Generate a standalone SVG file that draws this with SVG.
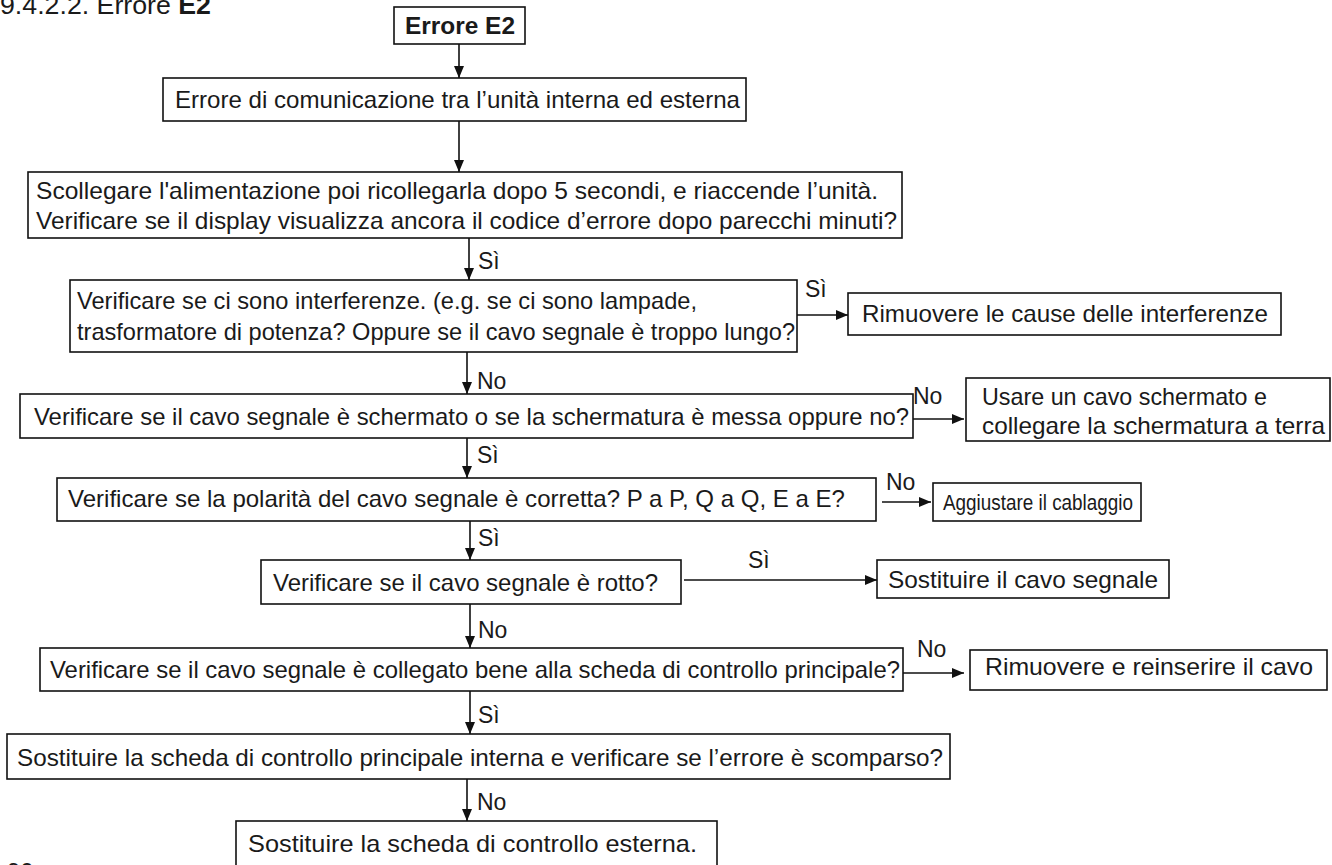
<svg xmlns="http://www.w3.org/2000/svg" width="1332" height="865" viewBox="0 0 1332 865">
  <defs>
    <marker id="arrow" viewBox="0 0 12 10" refX="12" refY="5" markerWidth="12" markerHeight="10" markerUnits="userSpaceOnUse" orient="auto">
      <path d="M0,0 L12,5 L0,10 z" fill="#111"/>
    </marker>
    <style>
      .box { fill: #fff; stroke: #111; stroke-width: 1.6; }
      .t { font-family: "Liberation Sans", Arial, sans-serif; font-size: 24px; fill: #1a1a1a; }
      .s { font-size: 22px; }
      .h { font-family: "Liberation Sans", Arial, sans-serif; font-size: 26px; fill: #1a1a1a; }
      .b { font-weight: bold; }
      .lbl { font-family: "Liberation Sans", Arial, sans-serif; font-size: 23px; fill: #1a1a1a; }
      .c { stroke: #111; stroke-width: 1.6; fill: none; marker-end: url(#arrow); }
    </style>
  </defs>
  <rect width="1332" height="865" fill="#fff"/>

  <!-- section heading -->
  <text class="h" x="0" y="14" textLength="211" lengthAdjust="spacingAndGlyphs">9.4.2.2. Errore <tspan class="b">E2</tspan></text>

  <!-- connectors -->
  <g id="connectors">
    <line class="c" x1="459" y1="44" x2="459" y2="78"/>
    <line class="c" x1="459" y1="121" x2="459" y2="172"/>
    <line class="c" x1="469" y1="238" x2="469" y2="280"/>
    <line class="c" x1="797" y1="315" x2="848" y2="315"/>
    <line class="c" x1="467" y1="352" x2="467" y2="394"/>
    <line class="c" x1="913" y1="419" x2="964" y2="419"/>
    <line class="c" x1="467" y1="438" x2="467" y2="478"/>
    <line class="c" x1="882" y1="502" x2="931" y2="502"/>
    <line class="c" x1="470" y1="521" x2="470" y2="560"/>
    <line class="c" x1="684" y1="580" x2="877" y2="580"/>
    <line class="c" x1="470" y1="604" x2="470" y2="648"/>
    <line class="c" x1="903" y1="673" x2="964" y2="673"/>
    <line class="c" x1="470" y1="691" x2="470" y2="734"/>
    <line class="c" x1="467" y1="779" x2="467" y2="821"/>

    <text class="lbl" x="478" y="269">Sì</text>
    <text class="lbl" x="805" y="297">Sì</text>
    <text class="lbl" x="477" y="389">No</text>
    <text class="lbl" x="913" y="404">No</text>
    <text class="lbl" x="477" y="463">Sì</text>
    <text class="lbl" x="886" y="490">No</text>
    <text class="lbl" x="478" y="546">Sì</text>
    <text class="lbl" x="748" y="568">Sì</text>
    <text class="lbl" x="478" y="638">No</text>
    <text class="lbl" x="917" y="657">No</text>
    <text class="lbl" x="478" y="723">Sì</text>
    <text class="lbl" x="477" y="810">No</text>
  </g>

  <g id="n-start">
    <rect class="box" x="394" y="7" width="131" height="37"/>
    <text class="t b" x="405" y="34" textLength="110" lengthAdjust="spacingAndGlyphs">Errore E2</text>
  </g>

  <g id="n-comm">
    <rect class="box" x="163" y="78" width="583" height="43"/>
    <text class="t" x="175" y="108" textLength="565" lengthAdjust="spacingAndGlyphs">Errore di comunicazione tra l’unità interna ed esterna</text>
  </g>

  <g id="n-reset">
    <rect class="box" x="28" y="172" width="874" height="66"/>
    <text class="t" x="36" y="199" textLength="842" lengthAdjust="spacingAndGlyphs">Scollegare l'alimentazione poi ricollegarla dopo 5 secondi, e riaccende l’unità.</text>
    <text class="t" x="36" y="229" textLength="861" lengthAdjust="spacingAndGlyphs">Verificare se il display visualizza ancora il codice d’errore dopo parecchi minuti?</text>
  </g>

  <g id="n-interf">
    <rect class="box" x="70" y="280" width="727" height="72"/>
    <text class="t" x="77" y="309" textLength="620" lengthAdjust="spacingAndGlyphs">Verificare se ci sono interferenze. (e.g. se ci sono lampade,</text>
    <text class="t" x="77" y="340" textLength="718" lengthAdjust="spacingAndGlyphs">trasformatore di potenza? Oppure se il cavo segnale è troppo lungo?</text>
  </g>

  <g id="n-remove-interf">
    <rect class="box" x="848" y="293" width="433" height="42"/>
    <text class="t" x="862" y="322" textLength="406" lengthAdjust="spacingAndGlyphs">Rimuovere le cause delle interferenze</text>
  </g>

  <g id="n-shield">
    <rect class="box" x="20" y="394" width="893" height="44"/>
    <text class="t" x="34" y="425" textLength="875" lengthAdjust="spacingAndGlyphs">Verificare se il cavo segnale è schermato o se la schermatura è messa oppure no?</text>
  </g>

  <g id="n-use-shield">
    <rect class="box" x="966" y="378" width="364" height="63"/>
    <text class="t" x="982" y="405" textLength="285" lengthAdjust="spacingAndGlyphs">Usare un cavo schermato e</text>
    <text class="t" x="982" y="434" textLength="343" lengthAdjust="spacingAndGlyphs">collegare la schermatura a terra</text>
  </g>

  <g id="n-polarity">
    <rect class="box" x="57" y="478" width="819" height="43"/>
    <text class="t" x="68" y="507" textLength="777" lengthAdjust="spacingAndGlyphs">Verificare se la polarità del cavo segnale è corretta? P a P, Q a Q, E a E?</text>
  </g>

  <g id="n-wiring">
    <rect class="box" x="933" y="483" width="208" height="38"/>
    <text class="t s" x="943" y="510" textLength="190" lengthAdjust="spacingAndGlyphs">Aggiustare il cablaggio</text>
  </g>

  <g id="n-broken">
    <rect class="box" x="261" y="560" width="420" height="44"/>
    <text class="t" x="273" y="591" textLength="385" lengthAdjust="spacingAndGlyphs">Verificare se il cavo segnale è rotto?</text>
  </g>

  <g id="n-replace-cable">
    <rect class="box" x="877" y="560" width="292" height="38"/>
    <text class="t" x="888" y="588" textLength="270" lengthAdjust="spacingAndGlyphs">Sostituire il cavo segnale</text>
  </g>

  <g id="n-connected">
    <rect class="box" x="40" y="648" width="863" height="43"/>
    <text class="t" x="50" y="678" textLength="850" lengthAdjust="spacingAndGlyphs">Verificare se il cavo segnale è collegato bene alla scheda di controllo principale?</text>
  </g>

  <g id="n-reinsert">
    <rect class="box" x="970" y="650" width="357" height="40"/>
    <text class="t" x="985" y="675" textLength="328" lengthAdjust="spacingAndGlyphs">Rimuovere e reinserire il cavo</text>
  </g>

  <g id="n-indoor-board">
    <rect class="box" x="7" y="734" width="943" height="45"/>
    <text class="t" x="17" y="766" textLength="926" lengthAdjust="spacingAndGlyphs">Sostituire la scheda di controllo principale interna e verificare se l’errore è scomparso?</text>
  </g>

  <g id="n-outdoor-board">
    <rect class="box" x="236" y="821" width="481" height="60"/>
    <text class="t" x="248" y="852" textLength="449" lengthAdjust="spacingAndGlyphs">Sostituire la scheda di controllo esterna.</text>
  </g>

  <!-- page number, cut at the lower edge -->
  <text class="t" x="7" y="880">90</text>
</svg>
